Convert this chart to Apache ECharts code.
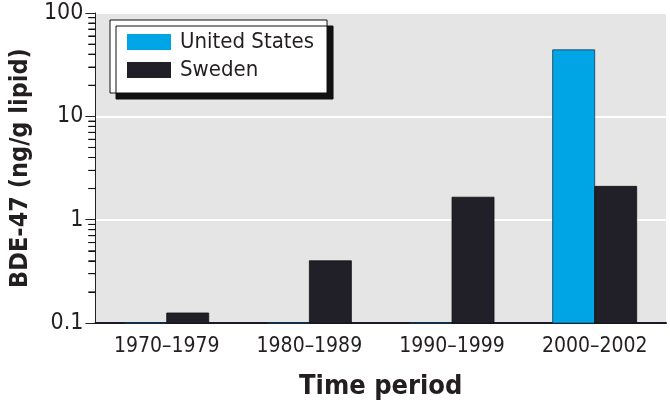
<!DOCTYPE html>
<html><head><meta charset="utf-8">
<script src="https://cdn.jsdelivr.net/npm/echarts@6/dist/echarts.min.js"></script>
<style>html,body{margin:0;padding:0;background:#fff}#c{width:670px;height:405px}</style>
</head><body><div id="c"></div>
<script>
var categories = ['1970–1979', '1980–1989', '1990–1999', '2000–2002'];
var unitedStates = [0.1, 0.1, 0.1, 44];
var sweden = [0.125, 0.4, 1.65, 2.1];
var yTickValues = [0.1, 1, 10, 100];
var minorTickValues = [0.2, 0.3, 0.4, 0.5, 0.6, 0.7, 0.8, 0.9, 2, 3, 4, 5, 6, 7, 8, 9, 20, 30, 40, 50, 60, 70, 80, 90];
var FONT = "'Liberation Sans Narrow', 'DejaVu Sans Condensed', sans-serif";
var BASE = 0.1;
var BAR_W = 42;

function barRenderer(side, fill, stroke) {
  return function (params, api) {
    var idx = api.value(0);
    var top = api.coord([idx, api.value(1)]);
    var bottom = api.coord([idx, BASE]);
    var x = side < 0 ? top[0] - BAR_W : top[0];
    return {
      type: 'rect',
      shape: { x: x, y: top[1], width: BAR_W, height: bottom[1] - top[1] },
      style: { fill: fill, stroke: stroke, lineWidth: 0.8 }
    };
  };
}

var chart = echarts.init(document.getElementById('c'));
chart.setOption({
  animation: false,
  backgroundColor: '#fff',
  grid: { left: 91, right: 4, top: 13, bottom: 79, show: true, backgroundColor: '#e5e5e6', borderWidth: 0 },
  legend: {
    left: 110, top: 20, orient: 'vertical',
    icon: 'rect',
    itemWidth: 44, itemHeight: 16, itemGap: 6,
    padding: [11, 13, 12, 17],
    backgroundColor: '#fff', borderColor: '#111', borderWidth: 1,
    shadowColor: '#111', shadowOffsetX: 6, shadowOffsetY: 6, shadowBlur: 0,
    itemStyle: { borderWidth: 0 },
    textStyle: { fontFamily: FONT, fontSize: 22, color: '#231f20', padding: [0, 0, 0, 4] },
    data: ['United States', 'Sweden']
  },
  xAxis: [{
    type: 'category', data: categories,
    axisLine: { lineStyle: { color: '#1a1a2a', width: 2 } },
    axisTick: { show: false },
    axisLabel: { fontFamily: FONT, fontSize: 21, color: '#231f20', margin: 13 },
    name: 'Time period', nameLocation: 'middle', nameGap: 50,
    nameTextStyle: { fontFamily: FONT, fontSize: 27, fontWeight: 'bold', color: '#231f20' }
  }, {
    type: 'value', min: 0, max: 1, show: false
  }],
  yAxis: [{
    type: 'log', min: 0.1, max: 100, logBase: 10, position: 'left',
    axisLine: { show: true, lineStyle: { color: '#222', width: 1 } },
    axisTick: { show: true, length: 10, lineStyle: { color: '#222' } },
    axisLabel: { fontFamily: FONT, fontSize: 23, color: '#231f20', margin: 12,
      formatter: function (v) { return yTickValues.indexOf(v) >= 0 ? String(v) : ''; } },
    splitLine: { show: true, lineStyle: { color: '#fff', width: 2 } },
    name: 'BDE-47 (ng/g lipid)', nameLocation: 'middle', nameGap: 57,
    nameTextStyle: { fontFamily: FONT, fontSize: 25, fontWeight: 'bold', color: '#231f20' }
  }, {
    type: 'log', min: 0.1, max: 100, logBase: 10, position: 'left', offset: 0,
    axisLine: { show: false },
    axisLabel: { show: false },
    splitLine: { show: false },
    axisTick: { show: true, length: 7, customValues: minorTickValues, lineStyle: { color: '#111', width: 1 } }
  }],
  series: [
    { name: 'United States', type: 'custom', clip: false,
      itemStyle: { color: '#00a5e6' },
      data: unitedStates.map(function (v, i) { return [i, v]; }),
      renderItem: barRenderer(-1, '#00a5e6', '#0d3a55') },
    { name: 'Sweden', type: 'custom', clip: false,
      itemStyle: { color: '#211f27' },
      data: sweden.map(function (v, i) { return [i, v]; }),
      renderItem: barRenderer(1, '#211f27', '#111') },
    { name: 'United States', type: 'scatter', xAxisIndex: 1, clip: false, z: 10,
      symbol: 'rect', symbolSize: [7, 1], symbolOffset: [-3.5, 0],
      itemStyle: { color: '#111', opacity: 1 }, tooltip: { show: false },
      data: minorTickValues.map(function (v) { return [0, v]; }) }
  ]
});
</script></body></html>
